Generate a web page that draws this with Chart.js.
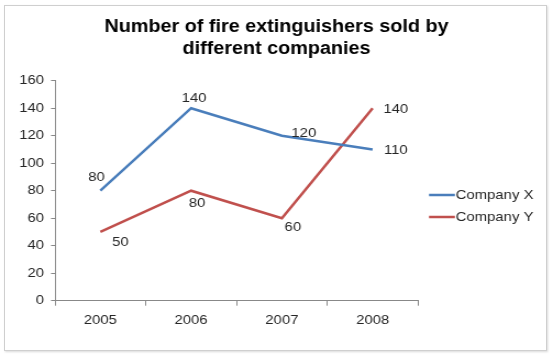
<!DOCTYPE html>
<html><head><meta charset="utf-8">
<script src="https://cdn.jsdelivr.net/npm/chart.js@4/dist/chart.umd.min.js"></script>
<style>
html,body{margin:0;padding:0;background:#fff;overflow:hidden;}
#frame{position:absolute;left:4px;top:5px;width:541px;height:344px;border:1px solid #cfcfcf;box-shadow:1px 1px 2px rgba(0,0,0,0.15);}
#wrap{position:absolute;left:0;top:0;width:503px;height:356px;transform:scaleX(1.0994);transform-origin:0 0;}
</style></head>
<body>
<div id="frame"></div>
<div id="wrap"><canvas id="c" width="503" height="356"></canvas></div>
<script>
const titleLines = ["Number of fire extinguishers sold by", "different companies"];
const years = ["2005", "2006", "2007", "2008"];
const seriesNames = ["Company X", "Company Y"];
const companyX = [80, 140, 120, 110];
const companyY = [50, 80, 60, 140];
const yTicks = [0, 20, 40, 60, 80, 100, 120, 140, 160];

// label offsets (styling only)
const labelOffsets = [
  [[-3.6,-13],[2.7,-10],[20,-2],[21,1]],
  [[18.2,10],[5.5,13],[10,9],[21,1]]
];
const colors = ["#4A7EBB", "#C0504D"];
const FONT = "'Liberation Sans', Arial, sans-serif";

const overlay = {
  id: 'overlay',
  afterDatasetsDraw(chart) {
    const ctx = chart.ctx;
    ctx.save();
    ctx.font = "13.5px " + FONT;
    ctx.fillStyle = "#262626";
    ctx.textAlign = "center";
    ctx.textBaseline = "middle";
    chart.data.datasets.forEach((ds, di) => {
      const meta = chart.getDatasetMeta(di);
      meta.data.forEach((pt, i) => {
        const o = labelOffsets[di][i];
        ctx.fillText(String(ds.data[i]), pt.x + o[0], pt.y + o[1]);
      });
    });
    // legend
    const lx = 390.2, ly = 195, gap = 22;
    chart.data.datasets.forEach((ds, di) => {
      const y = ly + di * gap;
      ctx.strokeStyle = ds.borderColor;
      ctx.lineWidth = 2.5;
      ctx.beginPath();
      ctx.moveTo(lx, y);
      ctx.lineTo(lx + 23.6, y);
      ctx.stroke();
      ctx.textAlign = "left";
      ctx.fillStyle = "#262626";
      ctx.fillText(ds.label, lx + 24.4, y);
    });
    ctx.restore();
  }
};

new Chart(document.getElementById('c'), {
  type: 'line',
  data: {
    labels: years,
    datasets: [
      { label: seriesNames[0], data: companyX, borderColor: colors[0], backgroundColor: colors[0], borderWidth: 2.5, pointRadius: 0, tension: 0 },
      { label: seriesNames[1], data: companyY, borderColor: colors[1], backgroundColor: colors[1], borderWidth: 2.5, pointRadius: 0, tension: 0 }
    ]
  },
  options: {
    responsive: false,
    animation: false,
    events: [],
    layout: { padding: { top: 6, right: 0, bottom: 25.3, left: 0 } },
    plugins: {
      legend: { display: false },
      tooltip: { enabled: false },
      title: {
        display: true,
        text: titleLines,
        color: "#000",
        font: { family: FONT, size: 18, weight: 'bold', lineHeight: 1.222 },
        padding: { top: 10, bottom: 20.7 }
      }
    },
    scales: {
      x: {
        offset: true,
        grid: { display: true, offset: true, drawOnChartArea: false, tickLength: 5, color: "#888" },
        border: { display: true, color: "#888", width: 1 },
        ticks: { color: "#262626", font: { family: FONT, size: 13.5 }, padding: 6, maxRotation: 0 },
        afterFit(s) { s.height = 30; }
      },
      y: {
        min: 0, max: 160,
        afterBuildTicks(s) { s.ticks = yTicks.map(v => ({ value: v })); },
        grid: { display: true, drawOnChartArea: false, tickLength: 3.6, color: "#888" },
        border: { display: true, color: "#888", width: 1 },
        ticks: { color: "#262626", font: { family: FONT, size: 13.5 }, padding: 6.4 },
        afterFit(s) { s.width = 50; }
      },
      legendSpace: {
        type: 'linear',
        position: 'right',
        display: true,
        grid: { display: false },
        border: { display: false },
        ticks: { display: false },
        afterFit(s) { s.width = 122.8; }
      }
    }
  },
  plugins: [overlay]
});
</script>
</body></html>
